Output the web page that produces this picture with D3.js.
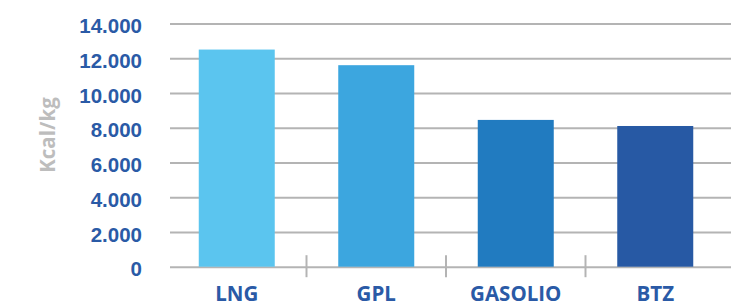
<!DOCTYPE html>
<html>
<head>
<meta charset="utf-8">
<script src="https://cdn.jsdelivr.net/npm/d3@7"></script>
<style>
  html, body { margin: 0; padding: 0; background: #fff; }
  svg { display: block; font-family: "Open Sans", "DejaVu Sans", sans-serif; }
</style>
</head>
<body>
<div id="chart"></div>
<script>
// dati
var categories = ["LNG", "GPL", "GASOLIO", "BTZ"];
var values = [12500, 11600, 8450, 8100];
var yTicks = [0, 2000, 4000, 6000, 8000, 10000, 12000, 14000];
var barColors = ["#5bc5ef", "#3ca6df", "#217bc0", "#2759a4"];
var yTitle = "Kcal/kg";

var width = 731, height = 307;
var gridLeft = 170, gridRight = 731;
var labelColor = "#2a5aa6", gridColor = "#b4b4b4";

var svg = d3.select("#chart").append("svg")
    .attr("width", width)
    .attr("height", height);

// scale
var xScale = d3.scaleBand()
    .domain(categories)
    .range([167, 725]);

var yScale = d3.scaleLinear()
    .domain([0, 14000])
    .range([266.7, 23.5]);

var it = d3.formatLocale({decimal: ",", thousands: ".", grouping: [3], currency: ["€", ""]});
var fmt = it.format(",d");

// asse y + griglia
var yAxis = d3.axisLeft(yScale)
    .tickValues(yTicks)
    .tickFormat(fmt)
    .tickSizeInner(-(gridRight - gridLeft))
    .tickSizeOuter(0)
    .tickPadding(28);

var gy = svg.append("g")
    .attr("class", "y-axis")
    .attr("transform", "translate(" + gridLeft + ",0)")
    .call(yAxis);
gy.select(".domain").remove();
gy.selectAll("line").attr("stroke", gridColor).attr("stroke-width", 2);
gy.selectAll("text")
    .attr("fill", labelColor)
    .attr("font-size", 20.5)
    .attr("font-weight", "bold")
    .attr("dy", "0.45em");

// barre
var barW = 76;
svg.selectAll("rect.bar")
    .data(values)
    .enter()
    .append("rect")
    .attr("class", "bar")
    .attr("x", function(d, i){ return xScale(categories[i]) + xScale.bandwidth() / 2 - barW / 2; })
    .attr("y", function(d){ return yScale(d); })
    .attr("width", barW)
    .attr("height", function(d){ return yScale(0) - yScale(d); })
    .attr("fill", function(d, i){ return barColors[i]; });

// tacche tra le categorie
svg.selectAll("line.sep")
    .data(categories.slice(1))
    .enter()
    .append("line")
    .attr("class", "sep")
    .attr("x1", function(d){ return xScale(d); })
    .attr("x2", function(d){ return xScale(d); })
    .attr("y1", yScale(0) - 11.5)
    .attr("y2", yScale(0) + 10.5)
    .attr("stroke", gridColor)
    .attr("stroke-width", 2);

// etichette categorie
svg.selectAll("text.cat")
    .data(categories)
    .enter()
    .append("text")
    .attr("class", "cat")
    .attr("x", function(d){ return xScale(d) + xScale.bandwidth() / 2; })
    .attr("y", 300.5)
    .attr("text-anchor", "middle")
    .attr("font-size", 20.5)
    .attr("font-weight", "bold")
    .attr("fill", labelColor)
    .text(function(d){ return d; });

// titolo asse y
svg.append("text")
    .attr("transform", "translate(55,135) rotate(-90)")
    .attr("text-anchor", "middle")
    .attr("font-size", 20.5)
    .attr("font-weight", "bold")
    .attr("fill", "#bdbdbd")
    .text(yTitle);
</script>
</body>
</html>
